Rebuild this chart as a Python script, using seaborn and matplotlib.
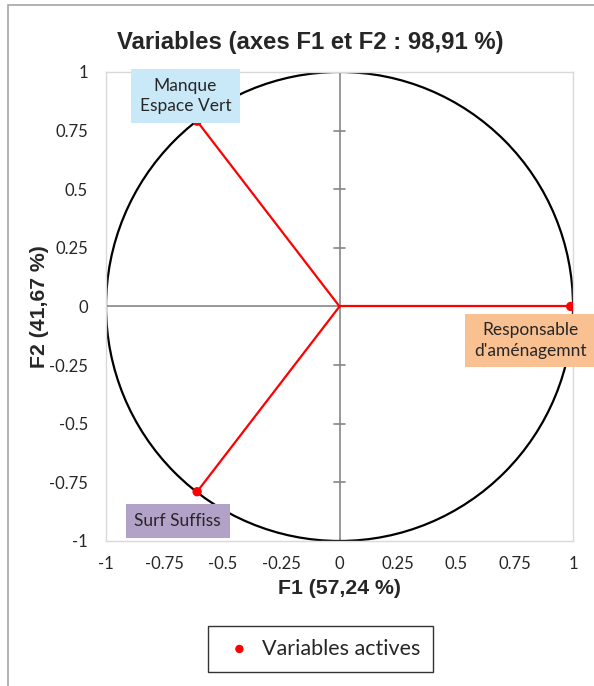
import numpy as np
import pandas as pd
import matplotlib
matplotlib.use("Agg")
import matplotlib.pyplot as plt
import matplotlib.patches as mpatches
import seaborn as sns

# Données (coordonnées des variables sur F1 / F2)
variables = ["Manque\nEspace Vert", "Responsable\nd'aménagemnt", "Surf Suffiss"]
f1 = [-0.61, 0.99, -0.61]
f2 = [0.79, 0.0, -0.79]
box_colors = ["#c9e9f9", "#f9c191", "#b3a2c7"]
label_offsets = [(-8.5, 18), (-29, -24.5), (-14, -21)]
ticks = [-1, -0.75, -0.5, -0.25, 0, 0.25, 0.5, 0.75, 1]
tick_labels = ["-1", "-0.75", "-0.5", "-0.25", "0", "0.25", "0.5", "0.75", "1"]

df = pd.DataFrame({"F1": f1, "F2": f2, "Variable": variables})

sns.set_style("white")
plt.rcParams["font.family"] = ["Lato", "DejaVu Sans"]
bold_family = ["Liberation Sans", "DejaVu Sans"]

fig = plt.figure(figsize=(5.94, 6.86), dpi=100)
ax = fig.add_axes([0.1785, 0.2114, 0.7862, 0.6837])

# Cercle des corrélations
ax.add_patch(mpatches.Circle((0, 0), 1, fill=False, color="black", lw=1.6, zorder=2))

# Axes passant par l'origine
ax.axhline(0, color="#868686", lw=1.2, zorder=1)
ax.axvline(0, color="#868686", lw=1.2, zorder=1)
for t in ticks:
    if t != 0:
        ax.plot([-0.022, 0.022], [t, t], color="#868686", lw=1.2, zorder=1)

# Vecteurs
for x, y in zip(f1, f2):
    ax.plot([0, x], [0, y], color="red", lw=1.6, zorder=3)

sns.scatterplot(data=df, x="F1", y="F2", color="red", s=45, edgecolor="none",
                ax=ax, zorder=4, label="Variables actives")

# Étiquettes
for x, y, name, c, off in zip(f1, f2, variables, box_colors, label_offsets):
    ax.annotate(name, (x, y), xytext=off, textcoords="offset points",
                ha="center", va="center", fontsize=12.5, linespacing=1.35,
                bbox=dict(boxstyle="square,pad=0.5", fc=c, ec="none"), zorder=5)

ax.set_xlim(-1, 1)
ax.set_ylim(-1, 1)
ax.set_xticks(ticks)
ax.set_yticks(ticks)
ax.set_xticklabels(tick_labels, fontsize=12)
ax.set_yticklabels(tick_labels, fontsize=12)
ax.tick_params(axis="y", length=0, pad=13)
ax.tick_params(axis="x", length=0, pad=11)
for s in ax.spines.values():
    s.set_color("#d9d9d9")
    s.set_linewidth(1)

ax.set_xlabel("F1 (57,24 %)", fontsize=15.3, fontweight="bold",
              family=bold_family, labelpad=5)
ax.set_ylabel("F2 (41,67 %)", fontsize=15.3, fontweight="bold",
              family=bold_family, labelpad=0)
fig.text(0.523, 0.938, "Variables (axes F1 et F2 : 98,91 %)", ha="center", va="center",
         fontsize=17.2, fontweight="bold", family=bold_family)

leg = ax.legend(loc="center", bbox_to_anchor=(0.54, 0.0545), bbox_transform=fig.transFigure,
                frameon=True, fancybox=False, fontsize=15.5, handletextpad=0.2,
                markerscale=0.9, borderpad=0.6, handlelength=1.7)
leg.get_frame().set_edgecolor("black")
leg.get_frame().set_linewidth(1)

# Cadre extérieur du graphique
fig.patches.append(mpatches.Rectangle((0.013, -0.05), 1.1, 1.043, transform=fig.transFigure,
                                      fill=False, ec="#a6a6a6", lw=1.2))

fig.savefig("out.png", dpi=100)
